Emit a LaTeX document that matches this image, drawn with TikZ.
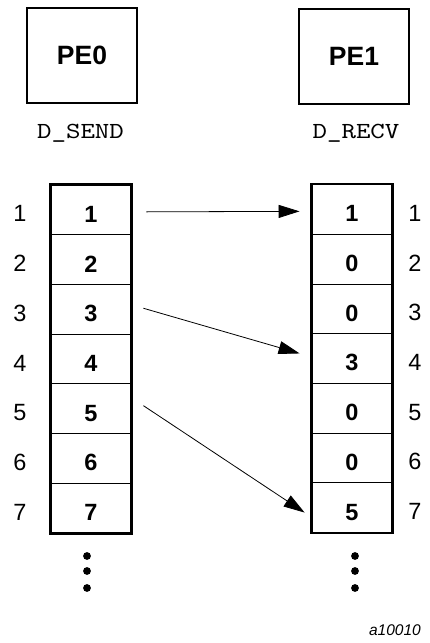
\documentclass[tikz,border=0pt]{standalone}
\usepackage{fontspec}
\setmainfont{Liberation Sans}
\setmonofont{lmmono10-regular.otf}[FakeStretch=1.2]
\usetikzlibrary{arrows.meta}
\tikzset{
  pebox/.style={draw, line width=2.2pt, minimum width=110pt, minimum height=95pt, inner sep=0pt,
    font=\fontsize{26.5}{30}\selectfont\bfseries},
  varname/.style={font=\fontsize{23}{28}\selectfont\ttfamily, inner sep=0pt},
  cell/.style={draw, line width=0.8pt, minimum width=80pt, minimum height=49.7pt, inner sep=0pt,
    text height=25pt, text depth=0pt, font=\fontsize{23.5}{27}\selectfont\bfseries},
  frame/.style={draw, line width=2.4pt},
  idx/.style={font=\fontsize{23.5}{27}\selectfont, inner sep=0pt},
  msg/.style={line width=0.8pt, -{Triangle[length=21pt,width=13pt]}},
  dot/.style={circle, fill, inner sep=0pt, minimum size=7.8pt},
}
\begin{document}
\begin{tikzpicture}[x=1pt,y=-1pt]
\useasboundingbox[fill=white] (0,0) rectangle (430,643);
\node[pebox] (pe0) at (82,55.5) {PE0};
\node[pebox] (pe1) at (354,56.5) {PE1};
\node[varname] (dsend) at (80.5,133) {D\_SEND};
\node[varname] (drecv) at (356,133) {D\_RECV};
% left array
\foreach \i/\v in {1/1,2/2,3/3,4/4,5/5,6/6,7/7}{
  \node[cell] (l\i) at (91,{185+49.7*(\i-0.5)}) {\v};
  \node[idx] (li\i) at (20,{185+49.7*(\i-0.5)+4}) {\i};
}
% right array
\foreach \i/\v in {1/1,2/0,3/0,4/3,5/0,6/0,7/5}{
  \node[cell] (r\i) at (352,{184.5+49.7*(\i-0.5)}) {\v};
  \node[idx] (ri\i) at (415,{184.5+49.7*(\i-0.5)+4}) {\i};
}
\draw[frame] (l1.north west) rectangle (l7.south east);
\draw[frame] (r1.north west) rectangle (r7.south east);
% arrows
\draw[msg] ([xshift=15pt,yshift=-2pt]l1.east) -- ([xshift=-12pt,yshift=-2pt]r1.west);
\draw[msg] ([xshift=12pt,yshift=1pt]l3.east) -- ([xshift=-12pt,yshift=5pt]r4.west);
\draw[msg] ([xshift=12pt,yshift=3pt]l5.east) -- ([xshift=-7pt,yshift=-5pt]r7.west);
% dots
\foreach \j/\y in {1/556,2/571,3/588}{
  \node[dot] (ld\j) at (87,\y) {};
  \node[dot] (rd\j) at (355,\y) {};
}
\node[anchor=east, inner sep=0pt, font=\fontsize{15.5}{18}\selectfont\itshape] (fig) at (421,630) {a10010};
\end{tikzpicture}
\end{document}
